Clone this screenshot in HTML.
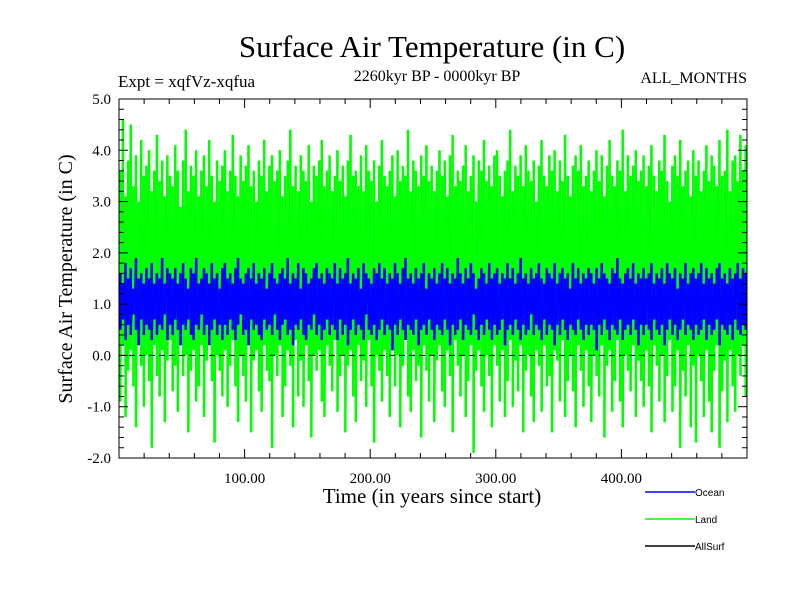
<!DOCTYPE html>
<html><head><meta charset="utf-8"><style>
body{margin:0;background:#fff}
svg{display:block;font-family:"Liberation Serif",serif}
</style></head><body>
<svg id="chart" width="800" height="600">
<text x="432" y="57" font-size="31" text-anchor="middle">Surface Air Temperature (in C)</text>
<text x="118" y="87" font-size="17">Expt = xqfVz-xqfua</text>
<text x="437" y="81" font-size="16" text-anchor="middle">2260kyr BP - 0000kyr BP</text>
<text x="747" y="83" font-size="16" text-anchor="end">ALL_MONTHS</text>
<text transform="translate(72,279) rotate(-90)" font-size="20" text-anchor="middle">Surface Air Temperature (in C)</text>
<text x="432" y="503" font-size="21" text-anchor="middle">Time (in years since start)</text>
<g id="plot"></g>
<g id="axes"></g>
<g font-family="Liberation Sans,sans-serif" font-size="10">
<g><line x1="645" y1="492" x2="695" y2="492" stroke="#0000ff" stroke-width="1.5"/><text x="695" y="496">Ocean</text></g>
<g><line x1="645" y1="519" x2="695" y2="519" stroke="#00ff00" stroke-width="1.5"/><text x="695" y="523">Land</text></g>
<g><line x1="645" y1="546" x2="695" y2="546" stroke="#000" stroke-width="1.5"/><text x="695" y="550">AllSurf</text></g>
</g>
</svg>
<script>
const xTicks=[100,200,300,400];
const xTickLabels=["100.00","200.00","300.00","400.00"];
const yTicks=[-2,-1,0,1,2,3,4,5];
const yTickLabels=["-2.0","-1.0","0.0","1.0","2.0","3.0","4.0","5.0"];
const landHigh=[3.6,4.6,3.1,3.8,4.5,3.3,3.9,3.0,4.2,3.5,3.7,4.0,3.2,3.6,4.3,3.4,3.8,3.1,3.9,3.5,
3.3,4.1,3.6,2.9,3.8,4.4,3.2,3.7,3.5,4.0,3.1,3.6,3.9,3.3,4.2,3.5,3.0,3.8,3.4,3.7,
4.0,3.2,3.6,4.3,3.5,3.1,3.9,3.4,3.7,4.1,3.3,3.6,3.0,3.8,3.5,4.2,3.2,3.7,3.9,3.4,
3.6,4.0,3.1,3.5,3.8,4.4,3.3,3.7,3.2,3.9,3.6,3.4,4.1,3.0,3.7,3.5,3.8,4.2,3.3,3.6,
3.9,3.2,3.5,4.0,3.4,3.7,3.1,3.8,4.3,3.5,3.6,3.3,3.9,3.2,4.1,3.6,3.4,3.8,3.0,3.7,
4.2,3.5,3.3,3.6,3.9,3.1,4.0,3.4,3.7,3.5,4.4,3.2,3.8,3.6,3.3,3.9,3.5,4.1,3.4,3.7,
3.2,3.6,4.0,3.5,3.8,3.1,3.9,4.3,3.3,3.6,3.4,3.7,4.1,3.2,3.5,3.9,3.0,3.8,3.6,4.2,
3.4,3.7,3.3,3.9,4.0,3.5,3.1,3.6,3.8,4.4,3.2,3.7,3.5,3.9,3.3,4.1,3.6,3.4,3.8,3.0,
3.7,4.2,3.5,3.3,3.9,3.6,4.0,3.2,3.8,3.4,4.3,3.5,3.1,3.7,3.9,3.6,4.1,3.3,3.5,3.8,
3.2,3.6,4.0,3.4,3.9,3.1,3.7,4.2,3.5,3.3,3.8,3.6,4.4,3.2,3.9,3.5,3.7,4.0,3.4,3.6,
3.9,3.3,3.7,4.1,3.5,3.2,3.8,3.6,4.3,3.4,3.0,3.7,3.9,3.5,4.2,3.3,3.6,3.8,3.1,4.0,
3.5,3.8,3.2,3.6,4.1,3.4,3.9,3.7,3.3,4.2,3.5,3.6,4.4,3.2,3.8,3.9,3.4,4.3,3.6,4.1];
const landLow=[-0.9,0.2,-1.2,-0.3,0.1,-0.6,-1.4,0.3,-0.2,-1.0,0.0,-0.5,-1.8,0.2,-0.4,-0.8,0.1,-1.3,-0.1,0.3,
-0.7,-0.2,-1.1,0.2,-0.4,0.0,-1.5,-0.3,0.1,-0.9,-0.6,0.2,-1.2,-0.1,0.3,-0.5,-1.7,0.0,-0.3,-0.8,
0.1,-1.0,-0.2,0.3,-0.6,-1.3,0.0,-0.4,-0.9,0.2,-1.5,-0.1,0.1,-0.7,-1.1,0.2,-0.3,-0.5,-1.8,0.0,
-0.4,0.2,-1.2,-0.6,0.1,-0.2,-1.4,0.3,-0.8,-0.1,-1.0,0.2,-0.5,-1.6,0.0,-0.3,0.1,-0.9,-1.2,0.2,
-0.2,-0.7,0.3,-1.1,-0.4,0.0,-1.5,-0.2,0.1,-0.8,-1.3,0.2,-0.5,-0.1,-1.0,0.3,-0.6,-1.7,0.0,-0.3,
-0.9,0.1,-0.4,-1.2,0.2,-0.6,0.0,-1.4,-0.2,0.3,-0.8,-1.1,0.1,-0.5,-0.2,-1.6,0.2,-0.3,-0.9,0.0,
-1.3,-0.1,0.2,-0.7,-1.0,0.1,-0.4,-1.5,0.3,-0.2,-0.8,0.0,-1.2,-0.5,0.2,-1.9,-0.3,0.1,-0.6,-1.1,
0.0,-0.4,-1.4,0.2,-0.2,-0.9,0.1,-1.2,-0.5,0.3,-1.0,-0.1,-0.7,0.2,-1.5,-0.3,0.0,-0.8,-1.3,0.1,
-0.2,-1.1,0.2,-0.6,-0.4,-1.5,0.1,-0.1,-0.9,0.3,-1.2,-0.5,0.0,-0.7,-1.4,0.2,-0.3,-1.0,0.1,-0.6,
-1.3,0.0,-0.4,-0.8,0.2,-1.6,-0.2,0.1,-1.1,-0.5,0.3,-0.9,-1.4,0.0,-0.3,-0.7,0.2,-1.2,-0.1,-0.5,
-1.0,0.1,-0.6,-1.5,0.2,-0.2,-0.9,0.0,-1.3,-0.4,0.3,-1.1,-0.6,0.1,-1.8,-0.3,-0.8,0.2,-1.4,-0.2,
-1.7,0.0,-0.5,-1.2,0.1,-0.9,-1.5,-0.3,0.2,-1.8,-0.7,-0.1,-1.3,0.1,-0.6,-1.1,0.0,-0.4,0.2,-0.8];
const oceanHigh=[1.6,1.4,1.8,1.5,1.7,1.3,1.9,1.5,1.6,1.4,1.7,1.5,1.8,1.4,1.6,1.5,1.9,1.4,1.7,1.6,
1.5,1.7,1.4,1.6,1.8,1.5,1.3,1.7,1.6,1.9,1.4,1.5,1.7,1.6,1.4,1.8,1.5,1.6,1.3,1.7,
1.8,1.5,1.6,1.4,1.7,1.9,1.5,1.4,1.6,1.7,1.5,1.8,1.4,1.6,1.5,1.7,1.3,1.6,1.8,1.5,
1.4,1.6,1.7,1.5,1.9,1.4,1.6,1.5,1.8,1.3,1.7,1.6,1.4,1.5,1.7,1.8,1.5,1.6,1.4,1.7,
1.6,1.5,1.8,1.4,1.7,1.5,1.6,1.9,1.4,1.6,1.5,1.7,1.3,1.8,1.6,1.5,1.4,1.7,1.6,1.8,
1.5,1.7,1.4,1.6,1.5,1.8,1.6,1.4,1.7,1.9,1.5,1.6,1.4,1.7,1.5,1.6,1.8,1.3,1.6,1.5,
1.7,1.4,1.6,1.8,1.5,1.7,1.4,1.6,1.5,1.9,1.6,1.4,1.7,1.5,1.8,1.6,1.3,1.5,1.7,1.6,
1.4,1.8,1.5,1.6,1.7,1.4,1.6,1.5,1.8,1.5,1.7,1.4,1.6,1.9,1.5,1.6,1.4,1.7,1.5,1.6,
1.8,1.5,1.4,1.7,1.6,1.5,1.8,1.4,1.6,1.7,1.5,1.6,1.3,1.8,1.5,1.7,1.4,1.6,1.5,1.7,
1.6,1.4,1.7,1.5,1.8,1.6,1.5,1.4,1.7,1.6,1.9,1.5,1.4,1.6,1.7,1.5,1.8,1.4,1.6,1.5,
1.7,1.5,1.6,1.8,1.4,1.6,1.5,1.7,1.4,1.8,1.6,1.5,1.7,1.3,1.6,1.5,1.8,1.4,1.6,1.7,
1.5,1.6,1.8,1.4,1.7,1.5,1.6,1.4,1.7,1.8,1.5,1.6,1.4,1.7,1.5,1.6,1.8,1.5,1.7,1.6];
const oceanLow=[0.5,0.7,0.3,0.6,0.4,0.8,0.5,0.2,0.7,0.4,0.6,0.5,0.3,0.7,0.4,0.6,0.5,0.8,0.3,0.6,
0.4,0.7,0.5,0.2,0.6,0.5,0.7,0.4,0.3,0.6,0.5,0.8,0.4,0.6,0.2,0.5,0.7,0.4,0.6,0.3,
0.6,0.4,0.7,0.5,0.3,0.6,0.8,0.4,0.5,0.2,0.7,0.5,0.6,0.4,0.3,0.7,0.5,0.6,0.4,0.8,
0.5,0.3,0.6,0.7,0.4,0.5,0.2,0.6,0.5,0.7,0.4,0.3,0.6,0.5,0.8,0.4,0.6,0.3,0.5,0.7,
0.4,0.6,0.5,0.3,0.7,0.4,0.6,0.2,0.5,0.7,0.4,0.6,0.5,0.3,0.8,0.5,0.4,0.6,0.3,0.5,
0.7,0.4,0.6,0.5,0.1,0.6,0.4,0.7,0.5,0.3,0.6,0.5,0.4,0.7,0.2,0.5,0.6,0.4,0.7,0.5,
0.3,0.6,0.5,0.4,0.7,0.5,0.2,0.6,0.4,0.5,0.7,0.3,0.6,0.5,0.4,0.8,0.5,0.3,0.6,0.4,
0.7,0.5,0.3,0.6,0.4,0.5,0.7,0.2,0.5,0.6,0.4,0.7,0.5,0.3,0.6,0.4,0.5,0.8,0.4,0.6,
0.5,0.3,0.7,0.4,0.6,0.5,0.2,0.6,0.4,0.7,0.5,0.3,0.6,0.5,0.4,0.7,0.5,0.3,0.6,0.4,
0.6,0.5,0.1,0.6,0.4,0.7,0.5,0.3,0.6,0.5,0.4,0.7,0.3,0.5,0.6,0.4,0.7,0.5,0.2,0.6,
0.4,0.6,0.5,0.3,0.7,0.5,0.4,0.6,0.2,0.5,0.7,0.4,0.6,0.3,0.5,0.7,0.4,0.6,0.5,0.3,
0.6,0.4,0.5,0.7,0.3,0.6,0.4,0.5,0.7,0.2,0.6,0.5,0.4,0.6,0.3,0.7,0.5,0.4,0.6,0.5];
const X0=119,X1=747,Y0=458,Y1=99,XMAX=500,YMIN=-2,YMAX=5;
const xs=v=>X0+(v/XMAX)*(X1-X0);
const ys=v=>Y0-(v-YMIN)/(YMAX-YMIN)*(Y0-Y1);
const NS="http://www.w3.org/2000/svg";
function mk(t,a,p){const e=document.createElementNS(NS,t);for(const k in a)e.setAttribute(k,a[k]);p.appendChild(e);return e;}
const plot=document.getElementById('plot'),axes=document.getElementById('axes');
function series(hi,lo,color,name){
  const g=mk('g',{},plot);
  
  
  const n=hi.length,step=XMAX/n,w=(xs(step)-xs(0));
  let d='';
  for(let i=0;i<n;i++){
    const x=xs((i+0.5)*step);
    d+='M'+x.toFixed(2)+' '+ys(lo[i]).toFixed(1)+'V'+ys(hi[i]).toFixed(1);
  }
  mk('path',{d:d,stroke:color,'stroke-width':(w*0.95).toFixed(2),fill:'none'},g);
  let pts='';
  for(let i=0;i<n;i++){
    const x=xs((i+0.5)*step);
    pts+=(x-w*0.25).toFixed(1)+','+ys(hi[i]).toFixed(1)+' '+(x+w*0.25).toFixed(1)+','+ys(lo[i]).toFixed(1)+' ';
  }
  mk('polyline',{points:pts,stroke:color,'stroke-width':1,fill:'none'},g);
}
series(landHigh,landLow,'#00ff00','land-series');
series(oceanHigh,oceanLow,'#0000ff','ocean-series');
const z=mk('line',{x1:X0,x2:X1,y1:ys(0),y2:ys(0),stroke:'#000','stroke-dasharray':'6,4'},plot);


const fr=mk('rect',{x:X0,y:Y1,width:X1-X0,height:Y0-Y1,fill:'none',stroke:'#000'},axes);


for(let t=20;t<XMAX;t+=20){const x=xs(t),L=(t%100===0)?9:5;
  mk('line',{x1:x,x2:x,y1:Y0,y2:Y0-L,stroke:'#000'},axes);
  mk('line',{x1:x,x2:x,y1:Y1,y2:Y1+L,stroke:'#000'},axes);}
for(let t=YMIN;t<=YMAX+1e-9;t+=0.2){const y=ys(t),L=(Math.abs(t-Math.round(t))<1e-6)?9:5;
  mk('line',{x1:X0,x2:X0+L,y1:y,y2:y,stroke:'#000'},axes);
  mk('line',{x1:X1,x2:X1-L,y1:y,y2:y,stroke:'#000'},axes);}
xTicks.forEach((t,i)=>{const e=mk('text',{x:xs(t),y:Y0+25,'font-size':15,'text-anchor':'middle'},axes);e.textContent=xTickLabels[i];
  
  });
yTicks.forEach((t,i)=>{const e=mk('text',{x:X0-8,y:ys(t)+5,'font-size':15,'text-anchor':'end'},axes);e.textContent=yTickLabels[i];
  
  });
</script>
</body></html>
